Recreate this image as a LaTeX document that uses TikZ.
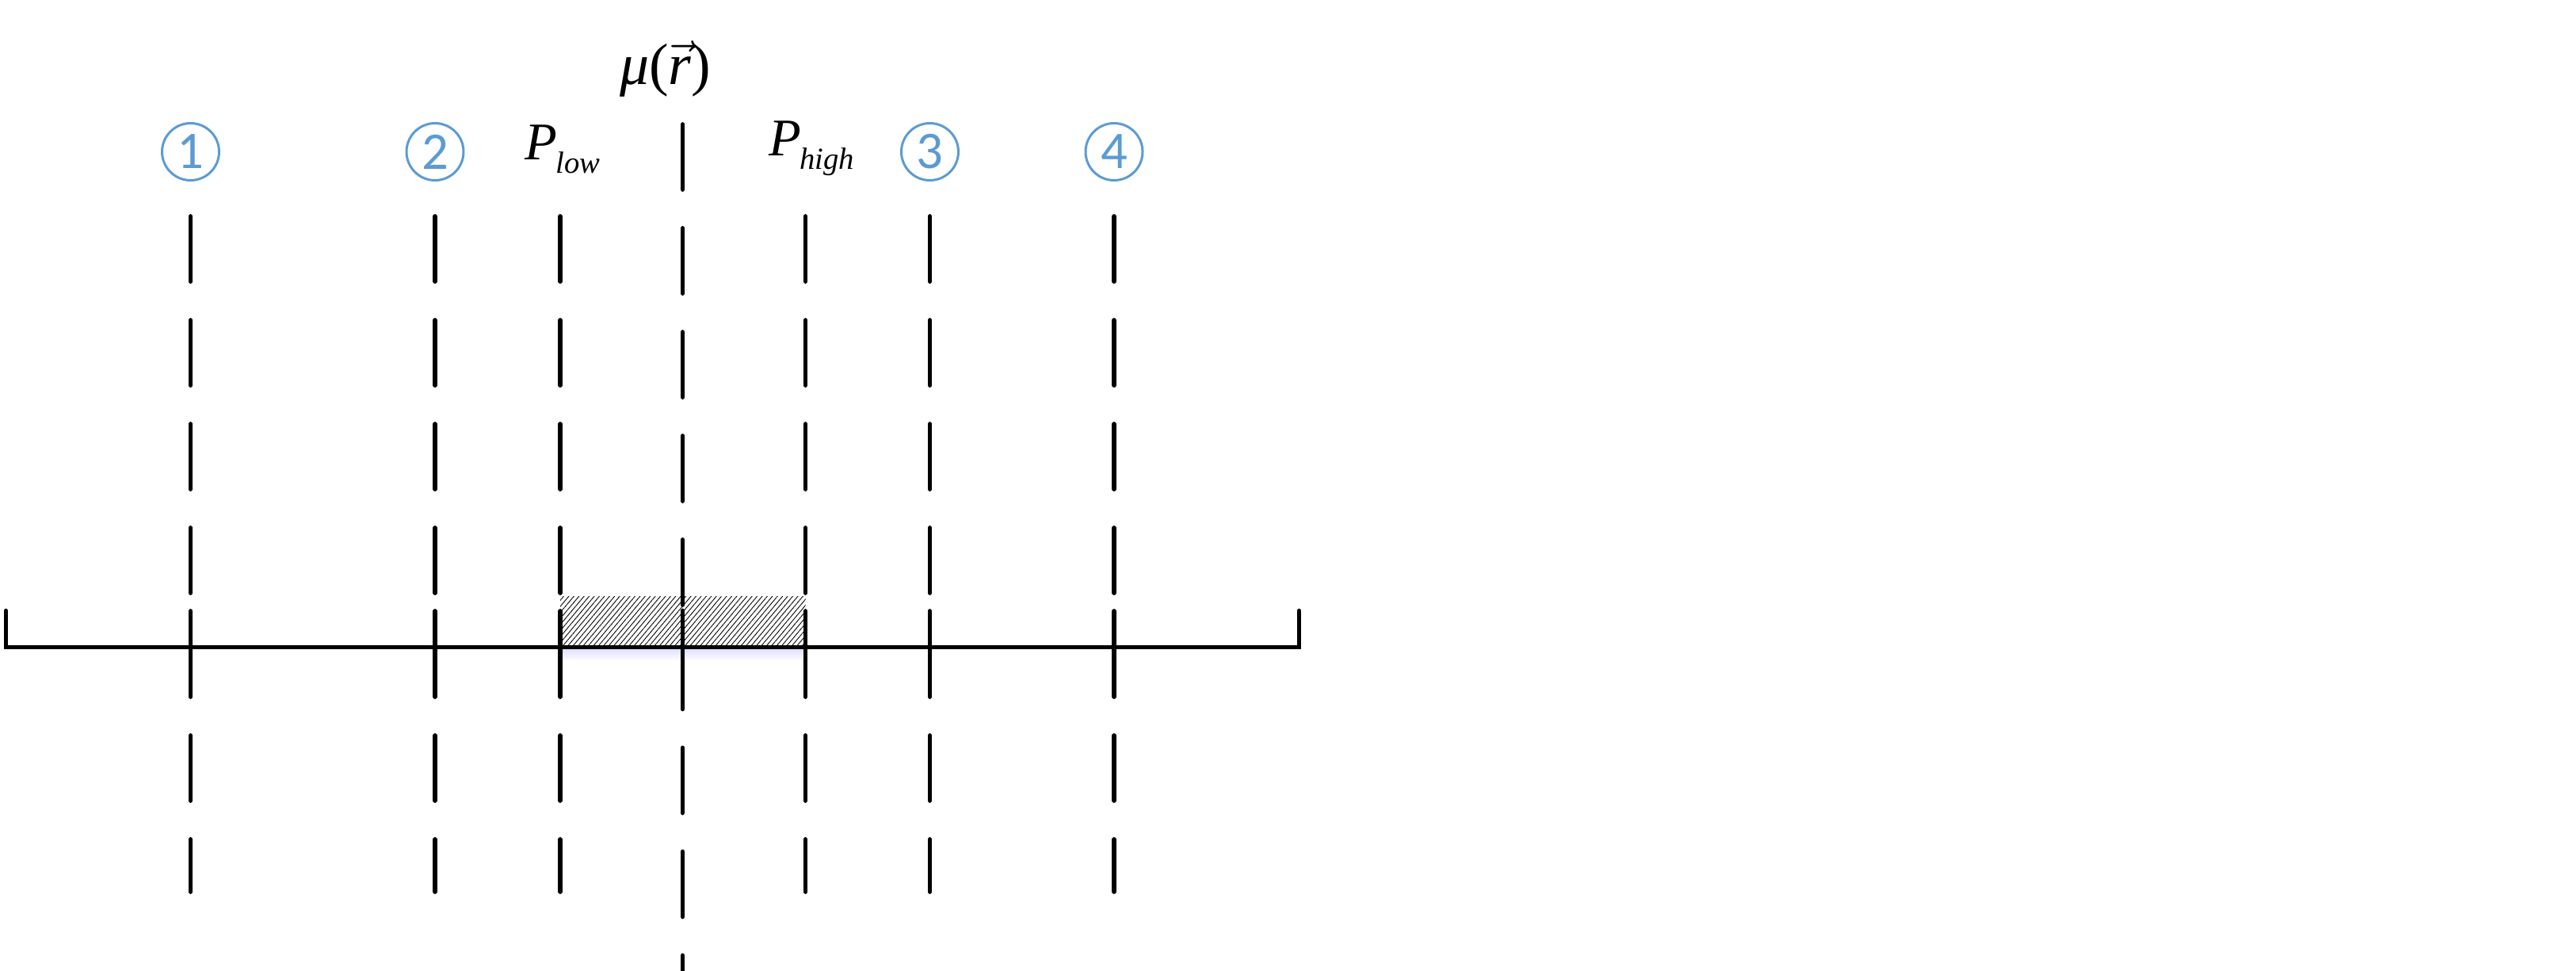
\documentclass[tikz,border=0pt]{standalone}
\usepackage{fontspec}
\setmainfont{Liberation Serif}
\newfontfamily\numfont{Carlito}
\usepackage{tikz}
\usetikzlibrary{patterns.meta}
\definecolor{numblue}{RGB}{91,155,213}

\begin{document}
\begin{tikzpicture}[
  guide/.style={line width=0.058cm, line cap=round, dash pattern=on 0.82cm off 0.49cm},
  guidelow/.style={line width=0.058cm, line cap=round, dash pattern=on 1.08cm off 0.49cm on 0.82cm off 0.49cm},
  axisline/.style={line width=0.055cm, line cap=round},
  numcirc/.style={circle, draw=numblue, line width=0.03cm, minimum size=0.72cm, inner sep=0pt, text=numblue, font=\numfont\fontsize{19}{21}\selectfont},
  lbl/.style={font=\fontsize{19}{23}\selectfont, inner sep=0pt}
]
\useasboundingbox (0,0) rectangle (32.51,-12.25);
% hatched band between P_low and P_high
\shade[top color=blue!12, bottom color=white] (7.07,-8.19) rectangle (10.165,-8.34);
\fill[pattern={Lines[angle=50,distance=1.4pt,line width=0.25pt]}] (7.07,-7.53) rectangle (10.165,-8.165);
% vertical guides
\foreach \x in {2.405,5.49,7.07,10.165,11.735,14.06} {
  \draw[guide] (\x,-2.73) -- (\x,-7.48);
  \draw[guidelow] (\x,-7.71) -- (\x,-11.25);
}
% centre line
\draw[guide] (8.615,-1.57) -- (8.615,-7.63);
\draw[guide, dash pattern=on 1.24cm off 0.49cm on 0.82cm off 0.49cm on 0.82cm off 0.49cm on 0.82cm] (8.615,-7.705) -- (8.615,-12.3);
% axis with end ticks
\draw[axisline] (0.075,-7.705) -- (0.075,-8.165) -- (16.395,-8.165) -- (16.395,-7.705);
% labels
\node[numcirc] (n1) at (2.405,-1.915) {1};
\node[numcirc] (n2) at (5.49,-1.915) {2};
\node[numcirc] (n3) at (11.735,-1.915) {3};
\node[numcirc] (n4) at (14.06,-1.915) {4};
\node[lbl, anchor=base west] (plow) at (6.62,-2.02) {\itshape P\kern-0.02cm\raisebox{-0.17cm}{\fontsize{11}{12}\selectfont low}};
\node[lbl, anchor=base west] (phigh) at (9.70,-1.97) {\itshape P\kern-0.02cm\raisebox{-0.17cm}{\fontsize{11}{12}\selectfont high}};
\node[lbl, font=\fontsize{21}{25}\selectfont] (mu) at (8.395,-0.87) {\itshape μ\upshape($\vec{\textit{r}}$)};
\end{tikzpicture}
\end{document}
